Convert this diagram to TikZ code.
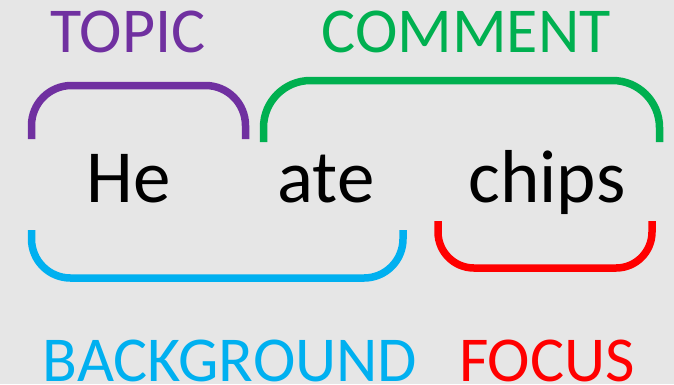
\documentclass[tikz,border=0pt]{standalone}
\usepackage{fontspec}
\setmainfont{Carlito}
\definecolor{bgcol}{HTML}{E6E6E6}
\definecolor{topiccol}{HTML}{7030A0}
\definecolor{commentcol}{HTML}{00B050}
\definecolor{backcol}{HTML}{00B0F0}
\definecolor{focuscol}{HTML}{FF0000}
\tikzset{
  word/.style={anchor=base, inner sep=0pt, text=black, font=\fontsize{75}{90}\selectfont},
  label/.style={anchor=base, inner sep=0pt, text depth=0pt, font=\fontsize{64}{77}\selectfont},
  bracket/.style={line width=7.5pt}
}
\begin{document}
\begin{tikzpicture}[x=1pt, y=-1pt]
  % canvas
  \fill[bgcol] (0,0) rectangle (674,384);
  \useasboundingbox (0,0) rectangle (674,384);

  % sentence
  \node[word] (he) at (128.5,202) {He};
  \node[word] (ate) at (326,202) {ate};
  \node[word] (chips) at (547,202) {chips};

  % category labels
  \node[label, text=topiccol] (topic) at (128,52) {TOPIC};
  \node[label, text=commentcol] (comment) at (466,52) {COMMENT};
  \node[label, text=backcol] (background) at (230,381) {BACKGROUND};
  \node[label, text=focuscol] (focus) at (547,381) {FOCUS};

  % brackets above the sentence
  \draw[bracket, topiccol, rounded corners=40pt]
    (31.5,139) -- (31.5,85.5) -- (245.5,85.5) -- (245.5,139);
  \draw[bracket, commentcol, rounded corners=47pt]
    (263.5,142) -- (263.5,80.5) -- (659.5,80.5) -- (659.5,142);

  % brackets below the sentence
  \draw[bracket, backcol, rounded corners=39pt]
    (31.5,230) -- (31.5,278) -- (403,278) -- (403,230);
  \draw[bracket, focuscol, rounded corners=36pt]
    (438,221) -- (438,268) -- (652,268) -- (652,221);
\end{tikzpicture}
\end{document}
